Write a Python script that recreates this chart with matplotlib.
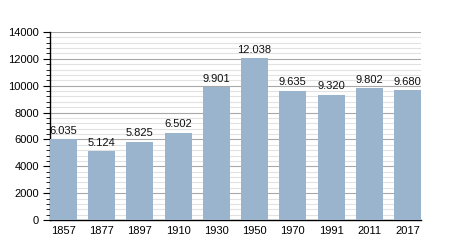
import matplotlib.pyplot as plt
import numpy as np
from matplotlib.ticker import MultipleLocator

years = ["1857", "1877", "1897", "1910", "1930", "1950", "1970", "1991", "2011", "2017"]
population = [6035, 5124, 5825, 6502, 9901, 12038, 9635, 9320, 9802, 9680]
labels = ["6.035", "5.124", "5.825", "6.502", "9.901", "12.038", "9.635", "9.320", "9.802", "9.680"]

plt.rcParams['font.family'] = ['Liberation Sans', 'DejaVu Sans']

fig = plt.figure(figsize=(4.5, 2.5), dpi=100)
ax = fig.add_axes([50 / 450, 30 / 250, 371 / 450, 188 / 250])

x = np.arange(len(years))
bars = ax.bar(x, population, width=0.7, color="#9ab4cd", zorder=3)
for xi, v, lab in zip(x, population, labels):
    ax.text(xi, v + 250, lab, ha="center", va="bottom", fontsize=8, color="#111111", zorder=4)

ax.set_xlim(-0.35, 9.35)
ax.set_ylim(0, 14000)
ax.set_xticks(x)
ax.set_xticklabels(years)
ax.yaxis.set_major_locator(MultipleLocator(2000))
ax.yaxis.set_minor_locator(MultipleLocator(400))
ax.grid(axis="y", which="major", color="#a8a8a8", linewidth=0.8, zorder=1)
ax.grid(axis="y", which="minor", color="#e2e2e2", linewidth=0.8, zorder=1)

for s in ["top", "right"]:
    ax.spines[s].set_visible(False)
ax.spines["left"].set_linewidth(1.0)
ax.spines["bottom"].set_linewidth(1.0)
ax.tick_params(axis="x", length=0, labelsize=8, pad=4)
ax.tick_params(axis="y", which="major", length=5, labelsize=8, pad=3)
ax.tick_params(axis="y", which="minor", length=3)

plt.savefig("out.png", dpi=100)
